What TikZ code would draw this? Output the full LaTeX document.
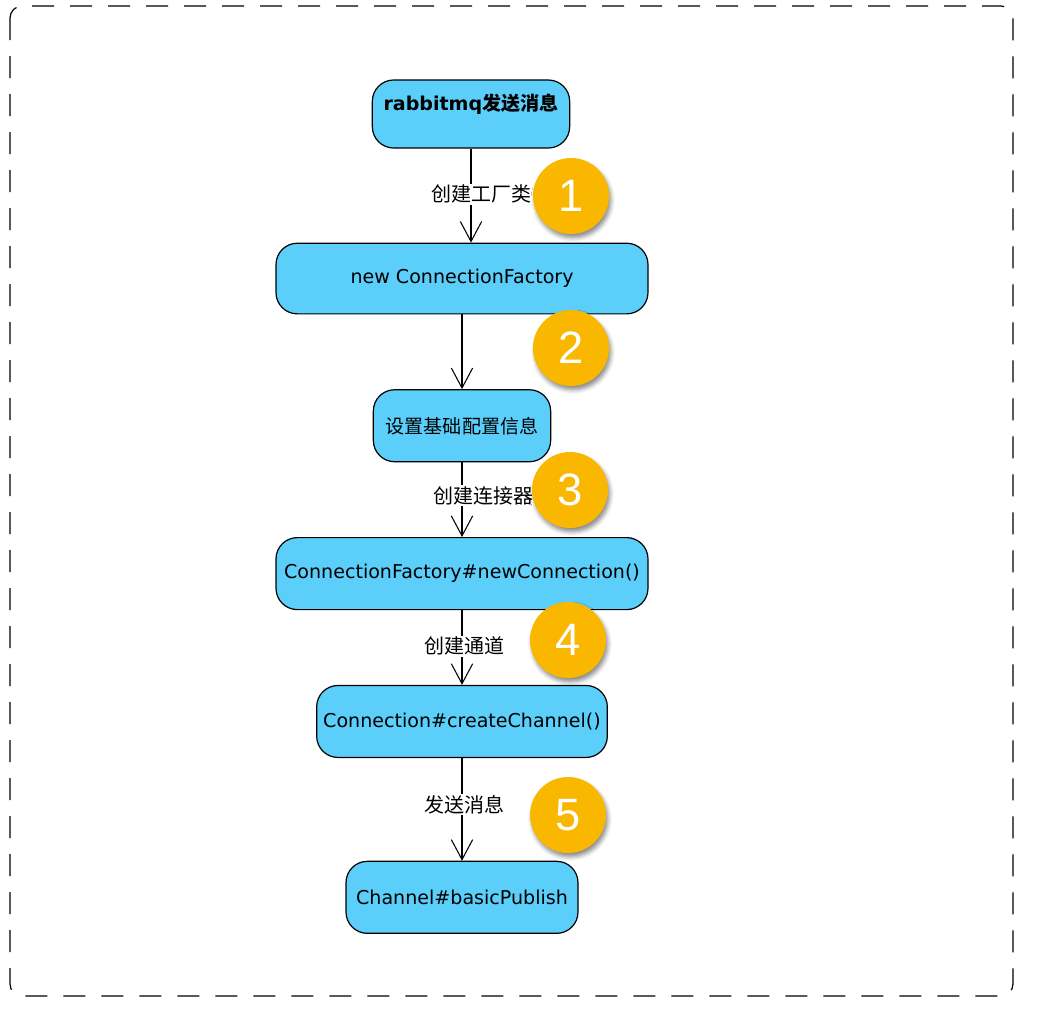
\documentclass[tikz,border=0pt]{standalone}
\usepackage{fontspec}
\setmainfont{DejaVu Sans}
\newfontfamily\cjk{Noto Sans CJK SC}
\newfontfamily\numfont{Liberation Sans}
\usetikzlibrary{arrows.meta, positioning, shadows.blur}
\definecolor{stepblue}{RGB}{91,207,250}
\definecolor{badgegold}{RGB}{249,183,0}
\tikzset{
  stepbox/.style={
    rectangle,
    rounded corners=16pt,
    draw,
    line width=0.9pt,
    fill=stepblue,
    align=center,
    minimum height=54pt,
    inner sep=4pt,
    font=\fontsize{14.3}{17}\selectfont
  },
  badge/.style={
    circle,
    fill=badgegold,
    minimum size=57pt,
    inner sep=0pt,
    text=white,
    font=\numfont\fontsize{34}{34}\selectfont,
    blur shadow={shadow xshift=1.5pt, shadow yshift=-3pt, shadow blur radius=3pt, shadow opacity=45}
  },
  steplabel/.style={fill=white, inner sep=1pt, font=\cjk\fontsize{15}{17}\selectfont},
  arrow/.style={-{Straight Barb[length=15pt,width=16pt]}, line width=0.8pt}
}
\begin{document}
\begin{tikzpicture}[x=0.75pt, y=-0.75pt]
  \useasboundingbox (0,0) rectangle (1050,1018);
  \draw[dash pattern=on 16.5pt off 12pt, line width=0.9pt, rounded corners=9pt] (10,6) rectangle (1013,996);

  \node[stepbox, minimum width=148pt, minimum height=51pt] (send) at (471,114) {\textbf{rabbitmq}{\cjk\bfseries 发送消息}\\\mbox{}};
  \node[stepbox, minimum width=279pt, minimum height=53pt, below=70.5pt of send, xshift=-6.75pt] (factory) {new ConnectionFactory};
  \node[stepbox, minimum width=133pt, below=56pt of factory] (config) {\cjk 设置基础配置信息};
  \node[stepbox, minimum width=279pt, below=56pt of config] (conn) {ConnectionFactory\#newConnection()};
  \node[stepbox, minimum width=218pt, below=56pt of conn] (channel) {Connection\#createChannel()};
  \node[stepbox, minimum width=174pt, below=77pt of channel] (publish) {Channel\#basicPublish};

  \draw[arrow] (send.south) -- node[steplabel, xshift=8pt, yshift=1pt] {创建工厂类} (send.south |- factory.north);
  \draw[arrow] (factory) -- (config);
  \draw[arrow] (config) -- node[steplabel, xshift=16pt, yshift=3pt] {创建连接器} (conn);
  \draw[arrow] (conn) -- node[steplabel, xshift=1.5pt, yshift=1pt] {创建通道} (channel);
  \draw[arrow] (channel) -- node[steplabel, xshift=2pt, yshift=3.5pt] {发送消息} (publish);

  % numbered badges
  \node[badge] (b1) at (571,196) {1};
  \node[badge] (b2) at (571,348) {2};
  \node[badge] (b3) at (570,490) {3};
  \node[badge] (b4) at (568,640) {4};
  \node[badge] (b5) at (568,815) {5};
\end{tikzpicture}
\end{document}
